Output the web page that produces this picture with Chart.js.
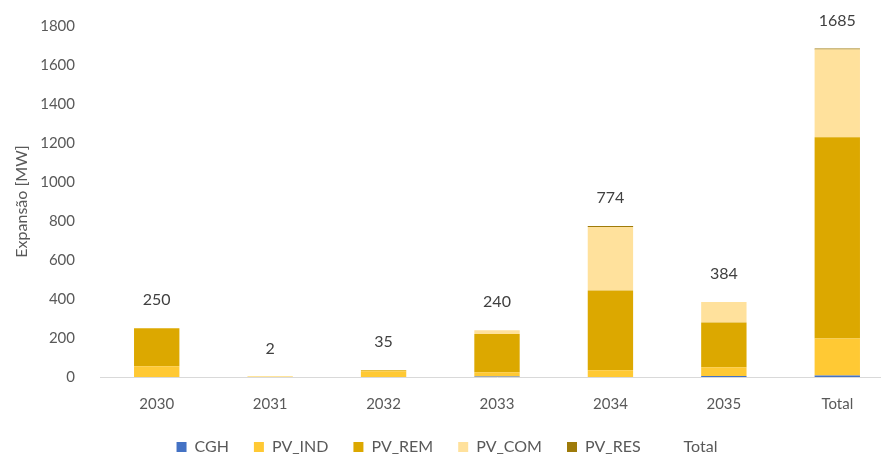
<!DOCTYPE html>
<html>
<head>
<meta charset="utf-8">
<title>Expansão [MW]</title>
<script src="https://cdn.jsdelivr.net/npm/chart.js@4/dist/chart.umd.min.js"></script>
<style>
  html, body { margin: 0; padding: 0; background: #fff; overflow: hidden; }
  #chart { display: block; }
</style>
</head>
<body>
<canvas id="chart" width="905" height="457"></canvas>
<script>
// categorias (anos + total)
const anos = ["2030", "2031", "2032", "2033", "2034", "2035", "Total"];

// expansão por fonte [MW]
const cgh    = [0,   0, 0,  3,   0,   5,   8];
const pvInd  = [55,  2, 30, 22,  35,  45,  189];
const pvRem  = [195, 0, 5,  195, 408, 229, 1032];
const pvCom  = [0,   0, 0,  20,  326, 105, 451];
const pvRes  = [0,   0, 0,  0,   5,   0,   5];
const totais = [250, 2, 35, 240, 774, 384, 1685];

const eixoY = { min: 0, max: 1800, passo: 200 };

const corTexto = "#595959";
const fonte = "Lato, 'Open Sans', sans-serif";

// escreve o total acima de cada pilha
const rotulosTotais = {
  id: "rotulosTotais",
  afterDatasetsDraw(chart) {
    const idx = chart.data.datasets.findIndex((d) => d.label === "Total");
    const meta = chart.getDatasetMeta(idx);
    const ctx = chart.ctx;
    ctx.save();
    ctx.font = "16px " + fonte;
    ctx.fillStyle = "#404040";
    ctx.textAlign = "center";
    ctx.textBaseline = "middle";
    meta.data.forEach((pt, i) => {
      ctx.fillText(String(totais[i]), pt.x, pt.y - 28);
    });
    ctx.restore();
  },
};

// legenda colada à borda de baixo
const legendaCompacta = {
  id: "legendaCompacta",
  beforeLayout(chart) {
    const leg = chart.legend;
    if (leg && !leg._fitOriginal) {
      leg._fitOriginal = leg.fit;
      leg.fit = function () {
        this._fitOriginal();
        this.height = 43;
      };
    }
  },
};

function serie(label, data, cor) {
  return {
    label: label,
    data: data,
    backgroundColor: cor,
    borderWidth: 0,
    stack: "fontes",
    categoryPercentage: 1,
    barPercentage: 0.4,
  };
}

const ctx = document.getElementById("chart").getContext("2d");
new Chart(ctx, {
  type: "bar",
  data: {
    labels: anos,
    datasets: [
      serie("CGH", cgh, "#4472c4"),
      serie("PV_IND", pvInd, "#ffc934"),
      serie("PV_REM", pvRem, "#dca800"),
      serie("PV_COM", pvCom, "#ffe19c"),
      serie("PV_RES", pvRes, "#9e7b0a"),
      {
        type: "line",
        label: "Total",
        data: totais,
        stack: "total",
        showLine: false,
        pointRadius: 0,
        backgroundColor: "transparent",
        borderColor: "transparent",
        borderWidth: 0,
      },
    ],
  },
  options: {
    responsive: false,
    animation: false,
    layout: { padding: { top: 22, right: 11, left: 0, bottom: 0 } },
    plugins: {
      tooltip: { enabled: false },
      legend: {
        position: "bottom",
        labels: {
          boxWidth: 10,
          boxHeight: 10,
          padding: 25,
          color: corTexto,
          font: { family: fonte, size: 16 },
        },
      },
    },
    scales: {
      x: {
        stacked: true,
        grid: { display: false },
        border: { display: true, color: "#d9d9d9", width: 1 },
        ticks: { color: corTexto, font: { family: fonte, size: 15 }, padding: 10 },
        afterFit(scale) {
          scale.height = 37;
        },
      },
      y: {
        stacked: true,
        min: eixoY.min,
        max: eixoY.max,
        grid: { display: false },
        border: { display: false },
        ticks: {
          stepSize: eixoY.passo,
          color: corTexto,
          padding: 17,
          font: { family: fonte, size: 15 },
          callback: (v) => String(v),
        },
        title: {
          display: true,
          text: "Expansão [MW]",
          color: corTexto,
          font: { family: fonte, size: 16 },
          padding: { top: 12, bottom: 0 },
        },
        afterFit(scale) {
          scale.width = 100;
        },
      },
    },
  },
  plugins: [rotulosTotais, legendaCompacta],
});
</script>
</body>
</html>
